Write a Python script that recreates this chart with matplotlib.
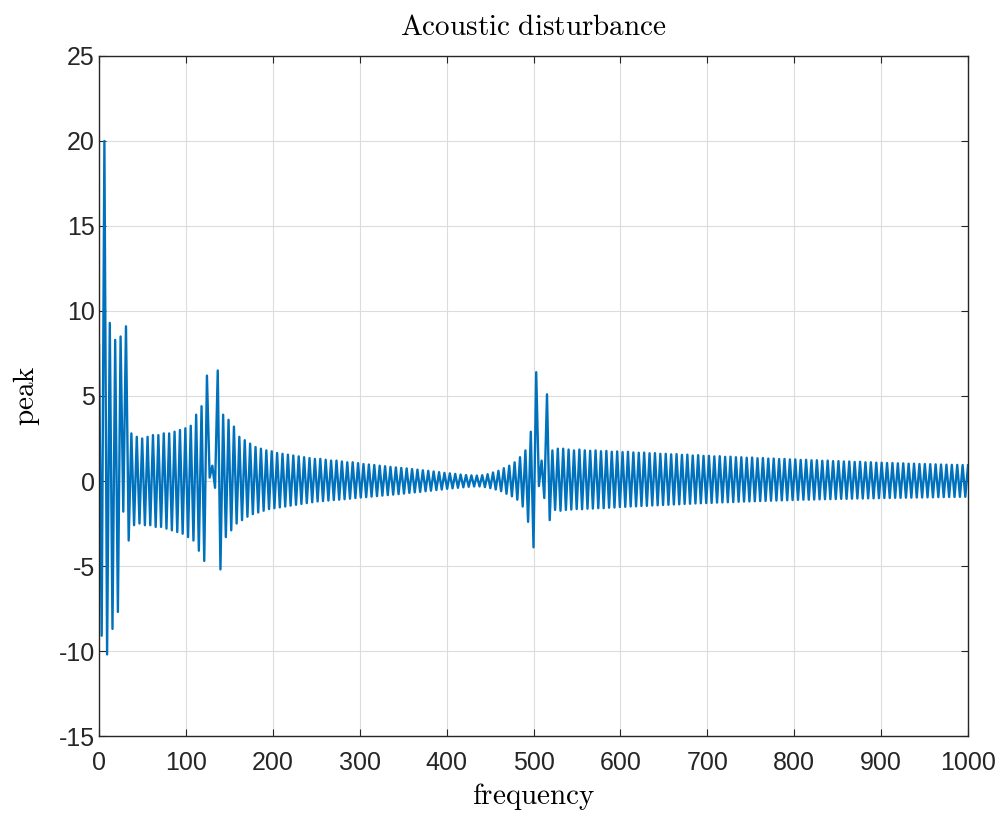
import numpy as np
import matplotlib
matplotlib.use('Agg')
import matplotlib.pyplot as plt

# peak values of the acoustic disturbance signal
# tops = local maxima, bottoms = local minima (they alternate along frequency)
tops = [8.0, 20.0, 9.3, 8.3, 8.5, 9.1, 2.8, 2.6, 2.5, 2.6,
        2.7, 2.7, 2.8, 2.8, 2.9, 3.0, 3.1, 3.25, 3.9, 4.4,
        6.2, 0.9, 6.5, 3.9, 3.6, 3.2, 2.6, 2.4, 2.2, 2.0,
        1.9, 1.8, 1.75, 1.65, 1.6, 1.55, 1.5, 1.45, 1.4, 1.35,
        1.3, 1.3, 1.25, 1.2, 1.2, 1.15, 1.1, 1.1, 1.05, 1.0,
        0.97, 0.94, 0.9, 0.87, 0.83, 0.8, 0.77, 0.74, 0.7, 0.67,
        0.63, 0.6, 0.56, 0.52, 0.48, 0.45, 0.42, 0.38, 0.35, 0.33,
        0.32, 0.34, 0.4, 0.5, 0.6, 0.75, 0.9, 1.1, 1.4, 1.8,
        2.9, 6.4, 1.2, 5.1, 1.8, 1.9, 1.9, 1.85, 1.8, 1.85,
        1.8, 1.78, 1.8, 1.75, 1.77, 1.72, 1.74, 1.7, 1.72, 1.68,
        1.66, 1.67, 1.63, 1.64, 1.6, 1.6, 1.57, 1.58, 1.54, 1.55,
        1.5, 1.52, 1.48, 1.48, 1.45, 1.46, 1.42, 1.43, 1.4, 1.4,
        1.37, 1.38, 1.34, 1.35, 1.32, 1.32, 1.29, 1.3, 1.27, 1.27,
        1.24, 1.25, 1.22, 1.22, 1.19, 1.2, 1.17, 1.17, 1.15, 1.15,
        1.12, 1.13, 1.1, 1.1, 1.08, 1.08, 1.06, 1.06, 1.04, 1.04,
        1.02, 1.02, 1.0, 1.0, 0.99, 0.98, 0.97, 0.96, 0.95, 0.95,
        0.94, 0.93]

bottoms = [-9.1, -10.2, -8.7, -7.7, -1.8, -3.5, -2.6, -2.5, -2.6, -2.6,
           -2.7, -2.7, -2.8, -2.9, -3.0, -3.1, -3.3, -3.5, -4.1, -4.7,
           0.2, -0.4, -5.2, -3.3, -2.9, -2.5, -2.3, -2.1, -1.95, -1.85,
           -1.75, -1.65, -1.6, -1.55, -1.5, -1.45, -1.4, -1.35, -1.3, -1.25,
           -1.2, -1.18, -1.15, -1.12, -1.1, -1.07, -1.04, -1.0, -0.97, -0.95,
           -0.92, -0.89, -0.86, -0.83, -0.8, -0.77, -0.74, -0.7, -0.67, -0.64,
           -0.6, -0.57, -0.53, -0.5, -0.46, -0.43, -0.4, -0.37, -0.34, -0.32,
           -0.32, -0.36, -0.42, -0.5, -0.6, -0.75, -0.9, -1.1, -1.5, -2.4,
           -3.9, -0.3, -1.0, -2.3, -1.7, -1.75, -1.7, -1.68, -1.65, -1.66,
           -1.63, -1.62, -1.6, -1.6, -1.57, -1.56, -1.53, -1.52, -1.5, -1.49,
           -1.47, -1.46, -1.44, -1.43, -1.41, -1.4, -1.38, -1.37, -1.35, -1.34,
           -1.32, -1.31, -1.3, -1.29, -1.27, -1.26, -1.25, -1.24, -1.22, -1.21,
           -1.2, -1.19, -1.18, -1.17, -1.16, -1.15, -1.14, -1.13, -1.12, -1.11,
           -1.1, -1.1, -1.09, -1.08, -1.07, -1.07, -1.06, -1.05, -1.05, -1.04,
           -1.03, -1.03, -1.02, -1.02, -1.01, -1.0, -1.0, -0.99, -0.99, -0.98,
           -0.98, -0.97, -0.97, -0.96, -0.96, -0.95, -0.95, -0.94, -0.94, -0.93,
           -0.93]

x_ticks = list(range(0, 1001, 100))
y_ticks = list(range(-15, 26, 5))

# interleave maxima and minima into one trace
peak = np.empty(len(tops) + len(bottoms))
peak[0::2] = tops
peak[1::2] = bottoms
frequency = np.linspace(0, 1000, len(peak))

plt.rcParams['font.family'] = ['Liberation Sans', 'DejaVu Sans']
plt.rcParams['mathtext.fontset'] = 'cm'
plt.rcParams['axes.unicode_minus'] = False

fig = plt.figure(figsize=(10.05, 8.17), dpi=100)
ax = fig.add_axes([0.0985, 0.0991, 0.8647, 0.8324])

ax.plot(frequency, peak, color='#0072BD', linewidth=1.7)

ax.set_xlim(0, 1000)
ax.set_ylim(-15, 25)
ax.set_xticks(x_ticks)
ax.set_yticks(y_ticks)

# matlab-ish look
ax.grid(True, color='#dcdcdc', linewidth=0.8)
ax.set_axisbelow(True)
ax.tick_params(direction='in', top=True, right=True, length=5, width=0.8,
               labelsize=18, colors='#262626')
ax.tick_params(axis='x', pad=11)
ax.tick_params(axis='y', pad=3)
for s in ax.spines.values():
    s.set_color('#262626')
    s.set_linewidth(1.0)

ax.set_title(r'$\mathrm{Acoustic\ disturbance}$', fontsize=21, pad=15)
ax.set_xlabel(r'$\mathrm{frequency}$', fontsize=21, labelpad=4)
ax.set_ylabel(r'$\mathrm{peak}$', fontsize=21, labelpad=12)

fig.savefig('out.png', dpi=100)
